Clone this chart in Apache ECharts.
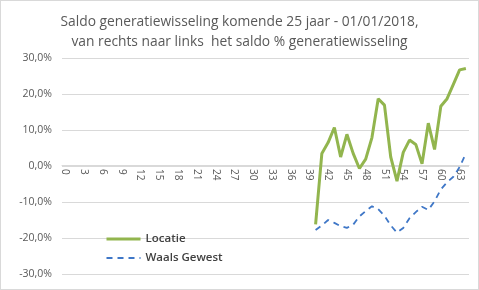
<!DOCTYPE html>
<html><head><meta charset="utf-8">
<script src="https://cdn.jsdelivr.net/npm/echarts@6/dist/echarts.min.js"></script>
<style>html,body{margin:0;padding:0;background:#fff}#c{width:477px;height:288px;border:1px solid #d9d9d9}</style>
</head><body><div id="c"></div>
<script>
var titleText = 'Saldo generatiewisseling komende 25 jaar - 01/01/2018,\nvan rechts naar links  het saldo % generatiewisseling';
var categories = [];
for (var i = 0; i <= 64; i++) categories.push(String(i));
var seriesNames = ['Locatie', 'Waals Gewest'];
// values from age 40 to 64 (earlier ages empty)
var locatieValues = [-16.2, 3.5, 6.5, 10.7, 2.5, 8.8, 3.5, -0.7, 1.9, 7.9, 18.7, 16.9, 2.5, -4.2, 3.8, 7.2, 6.0, 0.6, 11.9, 4.6, 16.6, 18.7, 22.7, 26.7, 27.1];
var waalsValues = [-17.8, -16.5, -15.0, -15.8, -16.7, -17.2, -16.3, -14.0, -12.5, -11.2, -12.0, -13.8, -16.5, -18.5, -17.2, -14.5, -12.8, -11.3, -12.2, -9.8, -6.5, -4.5, -3.0, -0.3, 3.5];
var startIndex = 40;
var yTicks = { min: -30, max: 30, interval: 10 };

function pad(arr) {
  var out = [];
  for (var i = 0; i < categories.length; i++) {
    var k = i - startIndex;
    out.push(k >= 0 && k < arr.length ? arr[k] : null);
  }
  return out;
}
var gridTop = 57, gridBottom = 15, H = 290;
var plotH = H - gridTop - gridBottom;
var chart = echarts.init(document.getElementById('c'));
chart.setOption({
  animation: false,
  title: {
    text: titleText, left: 'center', top: 6,
    textStyle: { fontFamily: 'Open Sans', fontSize: 13.8, fontWeight: 'normal', color: '#595959', lineHeight: 20 }
  },
  grid: { left: 61, right: 9, top: gridTop, bottom: gridBottom },
  legend: {
    orient: 'vertical', left: 104, top: 231, padding: 0, itemWidth: 34, itemHeight: 14, itemGap: 5,
    data: [
      { name: seriesNames[0], lineStyle: { width: 3 } },
      { name: seriesNames[1] }
    ],
    itemStyle: { opacity: 0 },
    textStyle: { fontFamily: 'Open Sans', fontSize: 11.5, lineHeight: 14, fontWeight: 600, color: '#404040' }
  },
  xAxis: {
    type: 'category', data: categories, boundaryGap: true, position: 'bottom',
    offset: -plotH / 2,
    axisLine: { onZero: false, lineStyle: { color: '#d9d9d9', width: 1 } },
    axisTick: { show: false },
    axisLabel: { interval: 2, rotate: -90, margin: 4, fontFamily: 'Open Sans', fontSize: 10, color: '#595959' }
  },
  yAxis: {
    type: 'value', min: yTicks.min, max: yTicks.max, interval: yTicks.interval,
    axisLine: { show: false }, axisTick: { show: false },
    splitLine: { lineStyle: { color: '#d9d9d9', width: 1 } },
    axisLabel: {
      margin: 10, fontFamily: 'Open Sans', fontSize: 10.5, color: '#595959',
      formatter: function (v) { return v.toFixed(1).replace('.', ',') + '%'; }
    }
  },
  series: [
    { name: seriesNames[0], type: 'line', data: pad(locatieValues), symbol: 'none', z: 3,
      lineStyle: { color: '#92b54e', width: 3 }, itemStyle: { color: '#92b54e' } },
    { name: seriesNames[1], type: 'line', data: pad(waalsValues), symbol: 'none', z: 2,
      lineStyle: { color: '#3f77c7', width: 1.8, type: [6, 5] }, itemStyle: { color: '#3f77c7' } }
  ]
});
</script></body></html>
